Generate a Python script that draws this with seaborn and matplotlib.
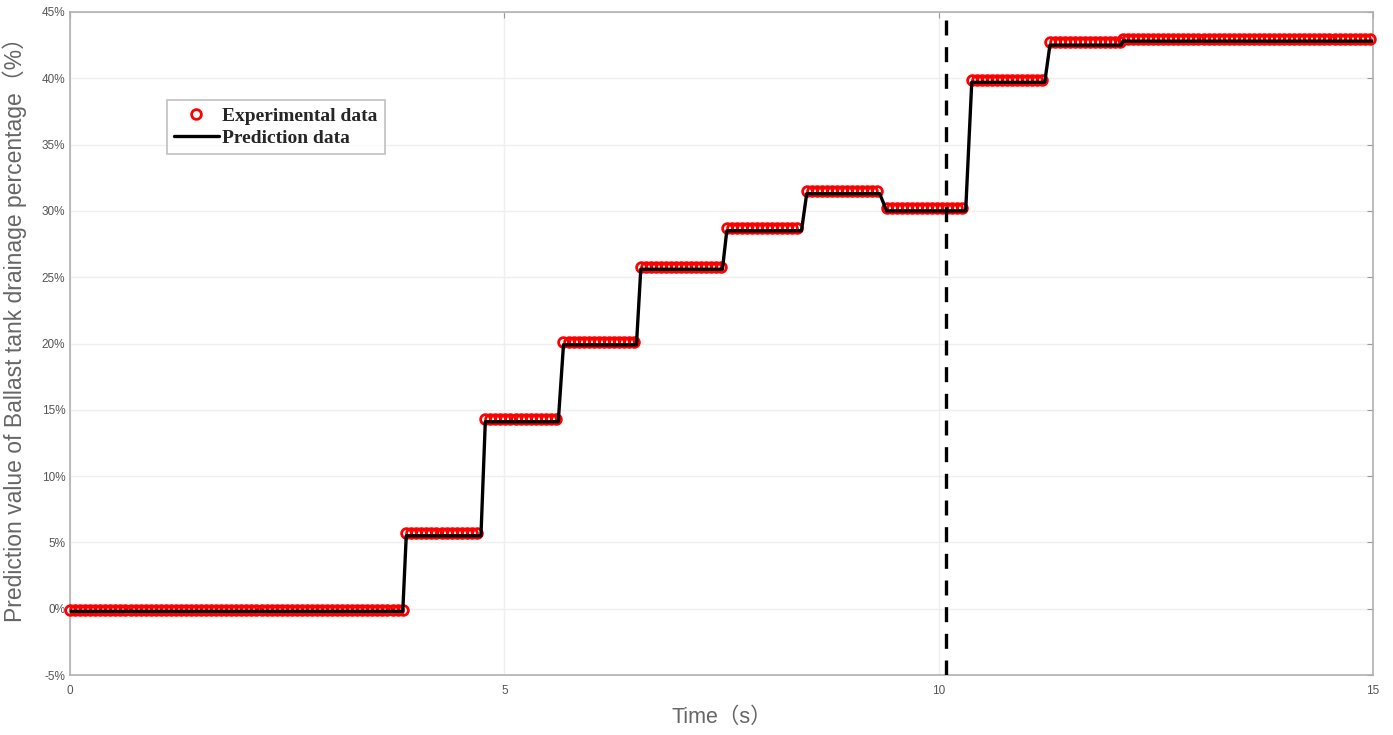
import numpy as np
import pandas as pd
import matplotlib
matplotlib.use("Agg")
import matplotlib.pyplot as plt
import seaborn as sns
from matplotlib.ticker import FuncFormatter

# Stufen (Beginn, Ende, Wert in %)
stufe_start = [0.00, 3.87, 4.78, 5.68, 6.57, 7.56, 8.48, 9.40, 10.38, 11.28, 12.12]
stufe_ende = [3.83, 4.73, 5.62, 6.52, 7.51, 8.42, 9.32, 10.31, 11.22, 12.10, 15.00]
wert_exp = [-0.1, 5.7, 14.3, 20.1, 25.8, 28.7, 31.5, 30.2, 39.9, 42.7, 43.0]
wert_pred = [-0.2, 5.5, 14.1, 19.9, 25.6, 28.5, 31.3, 30.0, 39.7, 42.5, 42.8]
dt_exp = 0.058
t_grenze = 10.08

x_ticks = [0, 5, 10, 15]
y_ticks = [-5, 0, 5, 10, 15, 20, 25, 30, 35, 40, 45]

# Messpunkte auf den Stufen
t_exp, y_exp = [], []
for s, e, w in zip(stufe_start, stufe_ende, wert_exp):
    tt = np.arange(s, e + 1e-9, dt_exp)
    t_exp.extend(tt)
    y_exp.extend([w] * len(tt))
df_exp = pd.DataFrame({"t": t_exp, "y": y_exp})

# Vorhersage als Linie durch die Stufenecken
t_pred, y_pred = [], []
for s, e, w in zip(stufe_start, stufe_ende, wert_pred):
    t_pred += [s, e]
    y_pred += [w, w]
df_pred = pd.DataFrame({"t": t_pred, "y": y_pred})

sns.set_style("white")
plt.rcParams['font.family'] = ['Liberation Sans', 'Noto Sans CJK SC', 'DejaVu Sans']

fig = plt.figure(figsize=(13.93, 7.35), dpi=100)
ax = fig.add_axes([0.0503, 0.0816, 0.9354, 0.9021])

ax.plot(df_exp["t"], df_exp["y"], linestyle='none', marker='o', markersize=7,
        markerfacecolor='none', markeredgecolor='red', markeredgewidth=2.0,
        label='Experimental data', zorder=3, clip_on=False)
sns.lineplot(data=df_pred, x="t", y="y", color='black', linewidth=2.4,
             label='Prediction data', sort=False, ax=ax, zorder=4)
ax.axvline(t_grenze, color='black', linewidth=2.4, linestyle=(0, (4.5, 3.5)), zorder=5)

ax.set_xlim(0, 15)
ax.set_ylim(-5, 45)
ax.set_xticks(x_ticks)
ax.set_yticks(y_ticks)
ax.yaxis.set_major_formatter(FuncFormatter(lambda v, p: f"{int(v)}%"))
ax.grid(True, color='#efefef', linewidth=1.0)
ax.tick_params(direction='in', length=4, width=0.8, color='#9a9a9a',
               labelsize=8.5, labelcolor='#555555', top=True, right=True)
ax.tick_params(axis='x', pad=7)
for sp in ax.spines.values():
    sp.set_color('#b0b0b0')
    sp.set_linewidth(1.2)

ax.set_xlabel("Time（s）", fontsize=15.5, color='#666666', labelpad=7)
ax.set_ylabel("Prediction value of Ballast tank drainage percentage（%）",
              fontsize=16.5, color='#666666')
ax.yaxis.set_label_coords(-0.033, 0.53)

leg = ax.legend(loc='upper left', bbox_to_anchor=(0.0744, 0.867), borderaxespad=0,
                frameon=True, fancybox=False, handlelength=2.3, handletextpad=0.2,
                borderpad=0.35, labelspacing=0.25,
                prop={'family': 'Liberation Serif', 'weight': 'bold', 'size': 14})
leg.get_frame().set_edgecolor('#b0b0b0')
leg.get_frame().set_linewidth(1.2)

fig.savefig("out.png", dpi=100)
